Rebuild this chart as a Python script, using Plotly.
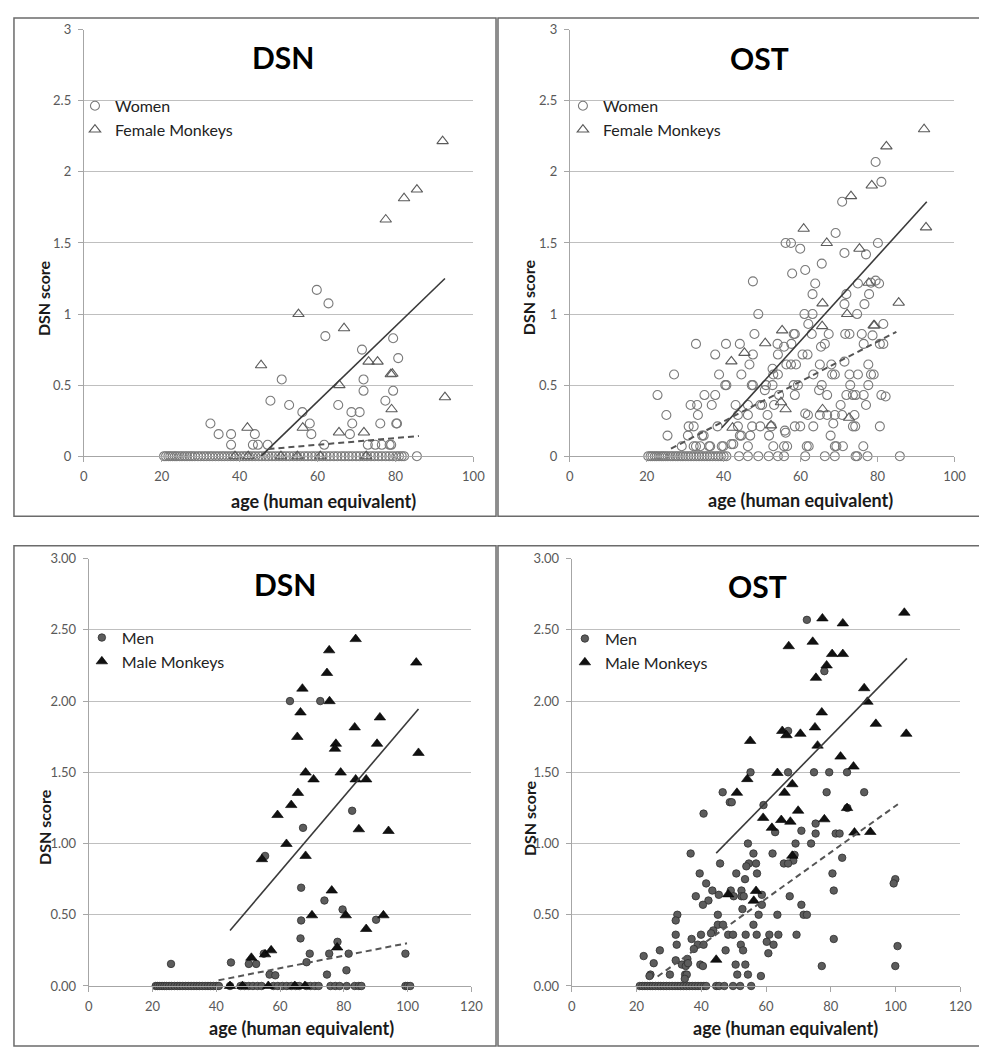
import plotly.graph_objects as go

# ---------------- DATA ----------------
# Panel 1: DSN, women / female monkeys
p1_women_age = [32.5, 34.6, 37.8, 37.8, 43.9, 43.4, 44.7, 47.2, 47.9, 50.8, 52.7, 56.1, 58.0, 58.4, 59.8,
                62.0, 62.8, 61.7, 65.3, 68.3, 68.7, 68.9, 70.8, 71.4, 71.8, 71.8, 72.9, 74.8, 76.1, 76.5,
                77.4, 78.5, 78.9, 79.4, 79.4, 80.2, 80.7, 80.4, 85.5,
                20.6, 21.1, 21.7, 22.2, 22.8, 23.4, 23.9, 24.6, 25.2, 25.9, 26.5, 27.2, 27.8, 28.5, 29.3,
                30.0, 30.8, 31.5, 32.3, 33.0, 33.8, 34.6, 35.4, 36.1, 36.9, 37.7, 38.4, 39.2, 40.1, 40.9,
                41.6, 42.4, 43.2, 44.0, 44.9, 45.7, 46.6, 47.4, 48.3, 49.2, 50.1, 51.0, 51.9, 52.8, 53.8,
                54.7, 55.6, 56.6, 57.5, 58.5, 59.4, 60.4, 61.3, 62.3, 63.2, 64.2, 65.1, 66.1, 67.0, 68.0,
                68.9, 69.9, 70.8, 71.8, 72.7, 73.7, 74.6, 75.6, 76.5, 77.5, 78.4, 79.3, 80.2, 80.9, 81.6, 82.2]
p1_women_score = [0.23, 0.155, 0.155, 0.08, 0.155, 0.08, 0.08, 0.08, 0.39, 0.54, 0.36, 0.31, 0.23, 0.155, 1.17,
                  0.845, 1.075, 0.08, 0.36, 0.155, 0.31, 0.23, 0.31, 0.75, 0.54, 0.46, 0.08, 0.08, 0.23, 0.08,
                  0.39, 0.08, 0.08, 0.83, 0.46, 0.23, 0.69, 0.23, 0.0,
                  0, 0, 0, 0, 0, 0, 0, 0, 0, 0, 0, 0, 0, 0, 0,
                  0, 0, 0, 0, 0, 0, 0, 0, 0, 0, 0, 0, 0, 0, 0,
                  0, 0, 0, 0, 0, 0, 0, 0, 0, 0, 0, 0, 0, 0, 0,
                  0, 0, 0, 0, 0, 0, 0, 0, 0, 0, 0, 0, 0, 0, 0,
                  0, 0, 0, 0, 0, 0, 0, 0, 0, 0, 0, 0, 0, 0, 0, 0]
p1_monkey_age = [42.0, 45.5, 55.1, 56.2, 65.6, 65.5, 66.8, 71.9, 73.1, 75.4, 78.8, 79.2, 79.0, 77.5, 82.2,
                 85.5, 92.1, 92.7, 38.8, 42.2, 50.6, 54.8, 60.7, 72.5]
p1_monkey_score = [0.20, 0.64, 1.0, 0.20, 0.50, 0.167, 0.90, 0.167, 0.665, 0.665, 0.577, 0.58, 0.33, 1.665, 1.815,
                   1.876, 2.217, 0.415, 0, 0, 0, 0, 0, 0]
p1_fit_monkey_age = [45.5, 92.7]
p1_fit_monkey_score = [0.0, 1.25]
p1_fit_women_age = [47.4, 86.0]
p1_fit_women_score = [0.05, 0.142]

# Panel 2: OST, women / female monkeys
p2_women_age = [79.5, 81.0, 70.8, 69.1, 56.1, 57.5, 59.9, 71.4, 77.0, 80.1, 65.5, 61.2, 57.8, 47.6, 63.8,
                74.9, 78.3, 79.5, 80.4, 63.1, 71.9, 77.8, 71.4, 76.6, 49.0, 61.0, 63.1, 74.7, 62.0, 81.5,
                78.7, 48.0, 58.2, 58.5, 62.9, 67.3, 71.6, 72.7, 75.9, 32.8, 40.6, 44.2, 54.0, 57.6, 66.3,
                76.4, 80.6, 81.5, 55.7, 65.3, 37.8, 47.6, 54.1, 60.5, 61.8, 46.7, 56.3, 57.5, 58.8, 65.0,
                68.0, 71.4, 77.6, 52.7, 27.1, 38.8, 44.6, 52.9, 54.1, 63.3, 68.2, 68.9, 72.7, 74.9, 78.3,
                79.0, 40.4, 40.7, 47.3, 47.6, 51.0, 52.7, 58.2, 59.3, 65.5, 72.9, 77.6, 50.7, 64.8, 22.8,
                35.0, 37.8, 54.4, 58.5, 66.9, 71.9, 73.6, 74.3, 76.4, 81.0, 82.1, 31.4, 33.1, 36.9, 43.1,
                46.3, 49.5, 50.0, 53.1, 70.4, 77.0, 25.1, 33.3, 43.7, 46.3, 51.4, 61.2, 61.9, 65.0, 66.9,
                68.9, 70.8, 74.0, 30.9, 32.2, 38.4, 43.7, 47.4, 49.5, 52.4, 55.9, 58.5, 59.9, 63.3, 68.5,
                73.6, 74.2, 80.6, 25.4, 30.7, 34.4, 34.8, 44.2, 44.6, 46.9, 51.8, 56.1, 67.8, 29.1, 32.2,
                32.8, 33.9, 36.2, 36.5, 39.5, 39.9, 42.0, 42.5, 46.3, 52.9, 55.7, 56.5, 61.6, 62.1, 68.9,
                69.3, 71.0, 76.3,
                20.4, 21.0, 21.5, 22.1, 22.6, 23.2, 23.8, 24.3, 24.9, 25.5, 26.2, 26.8, 27.5, 28.1, 28.8,
                29.4, 30.1, 30.8, 31.5, 32.2, 32.9, 33.6, 34.3, 35.0, 35.7, 36.4, 37.1, 37.9, 38.6, 39.3,
                40.0, 40.7, 44.0, 46.3, 49.0, 51.7, 54.1, 55.7, 61.2, 66.3, 68.9, 74.3, 74.7, 77.4, 85.8]
p2_women_score = [2.07, 1.93, 1.79, 1.57, 1.50, 1.50, 1.46, 1.43, 1.42, 1.50, 1.355, 1.31, 1.285, 1.23, 1.215,
                  1.215, 1.22, 1.235, 1.215, 1.14, 1.14, 1.14, 1.07, 1.07, 1.0, 1.0, 1.0, 1.0, 0.93, 0.93,
                  0.85, 0.86, 0.86, 0.86, 0.86, 0.86, 0.86, 0.86, 0.86, 0.79, 0.79, 0.79, 0.79, 0.79, 0.79,
                  0.79, 0.79, 0.79, 0.77, 0.77, 0.715, 0.715, 0.715, 0.715, 0.715, 0.645, 0.645, 0.645, 0.645, 0.645,
                  0.645, 0.665, 0.645, 0.615, 0.575, 0.575, 0.575, 0.575, 0.575, 0.575, 0.575, 0.575, 0.575, 0.575, 0.575,
                  0.575, 0.5, 0.5, 0.5, 0.5, 0.5, 0.5, 0.5, 0.5, 0.5, 0.5, 0.5, 0.465, 0.465, 0.43,
                  0.43, 0.43, 0.43, 0.43, 0.43, 0.43, 0.43, 0.43, 0.43, 0.43, 0.42, 0.36, 0.36, 0.36, 0.36,
                  0.36, 0.36, 0.36, 0.36, 0.36, 0.36, 0.29, 0.29, 0.29, 0.29, 0.29, 0.30, 0.29, 0.29, 0.29,
                  0.29, 0.29, 0.29, 0.21, 0.21, 0.21, 0.21, 0.21, 0.21, 0.21, 0.18, 0.21, 0.21, 0.21, 0.23,
                  0.21, 0.21, 0.21, 0.145, 0.145, 0.145, 0.145, 0.145, 0.145, 0.145, 0.145, 0.165, 0.145, 0.07, 0.07,
                  0.07, 0.07, 0.07, 0.07, 0.07, 0.07, 0.085, 0.085, 0.07, 0.07, 0.07, 0.07, 0.07, 0.07, 0.07,
                  0.07, 0.07, 0.07,
                  0, 0, 0, 0, 0, 0, 0, 0, 0, 0, 0, 0, 0, 0, 0,
                  0, 0, 0, 0, 0, 0, 0, 0, 0, 0, 0, 0, 0, 0, 0,
                  0, 0, 0, 0, 0, 0, 0, 0, 0, 0, 0, 0, 0, 0, 0]
p2_monkey_age = [92.1, 82.3, 78.5, 73.1, 60.8, 92.6, 66.8, 75.3, 77.7, 65.7, 85.5, 72.1, 79.0, 79.2, 65.6,
                 55.2, 50.8, 45.4, 42.0, 72.6, 65.7, 56.1, 52.3, 42.3, 54.9]
p2_monkey_score = [2.30, 2.18, 1.905, 1.83, 1.60, 1.61, 1.50, 1.46, 1.22, 1.075, 1.08, 1.0, 0.92, 0.92, 0.915,
                   0.885, 0.795, 0.727, 0.667, 0.27, 0.33, 0.33, 0.217, 0.20, 0.38]
p2_fit_monkey_age = [39.5, 92.8]
p2_fit_monkey_score = [0.20, 1.79]
p2_fit_women_age = [26.3, 84.9]
p2_fit_women_score = [0.053, 0.875]

# Panel 3: DSN, men / male monkeys
p3_men_age = [25.8, 44.6, 50.2, 52.5, 54.9, 55.3, 56.7, 58.5, 63.1, 72.6, 67.2, 66.6, 66.4, 66.6, 68.3,
              69.3, 73.9, 75.4, 74.7, 78.0, 79.6, 80.8, 81.5, 82.6, 90.1, 99.3,
              21.0, 21.6, 22.3, 23.0, 23.7, 24.4, 25.2, 26.0, 26.9, 27.8, 28.6, 29.5, 30.4, 31.2, 32.1,
              33.0, 33.9, 34.7, 35.6, 36.5, 37.4, 38.2, 39.1, 40.0, 40.8, 44.3, 47.6, 48.9, 50.2, 51.5,
              52.9, 54.2, 57.9, 59.3, 60.7, 62.1, 63.5, 64.9, 66.0, 68.2, 69.5, 70.9, 72.1, 75.8, 77.3,
              78.7, 80.9, 83.4, 84.7, 85.5, 99.3, 100.0, 100.8]
p3_men_score = [0.155, 0.165, 0.155, 0.155, 0.227, 0.913, 0.08, 0.075, 2.0, 2.0, 1.11, 0.69, 0.334, 0.46, 0.167,
                0.227, 0.60, 0.227, 0.08, 0.31, 0.537, 0.11, 0.227, 1.23, 0.465, 0.227,
                0, 0, 0, 0, 0, 0, 0, 0, 0, 0, 0, 0, 0, 0, 0,
                0, 0, 0, 0, 0, 0, 0, 0, 0, 0, 0, 0, 0, 0, 0,
                0, 0, 0, 0, 0, 0, 0, 0, 0, 0, 0, 0, 0, 0, 0,
                0, 0, 0, 0, 0, 0, 0, 0]
p3_monkey_age = [102.7, 83.7, 75.4, 74.7, 67.0, 75.5, 66.4, 91.3, 83.4, 65.4, 77.5, 77.2, 90.4, 103.4, 68.0,
                 79.0, 70.5, 83.7, 87.0, 65.6, 63.5, 59.2, 84.7, 94.0, 62.0, 68.0, 54.3, 76.2, 70.0, 80.6,
                 92.4, 87.0, 77.9, 51.0, 55.3, 57.2, 44.3, 48.2, 56.3, 64.6, 67.8]
p3_monkey_score = [2.27, 2.435, 2.356, 2.197, 2.087, 1.999, 1.92, 1.885, 1.815, 1.748, 1.70, 1.665, 1.70, 1.636, 1.498,
                   1.498, 1.45, 1.45, 1.45, 1.355, 1.27, 1.20, 1.10, 1.088, 0.997, 0.913, 0.89, 0.67, 0.496, 0.496,
                   0.496, 0.40, 0.27, 0.198, 0.222, 0.25, 0, 0, 0, 0, 0]
p3_fit_monkey_age = [44.3, 103.4]
p3_fit_monkey_score = [0.39, 1.945]
p3_fit_men_age = [40.7, 99.8]
p3_fit_men_score = [0.04, 0.30]

# Panel 4: OST, men / male monkeys
p4_men_age = [72.6, 78.0, 66.8, 55.2, 66.8, 74.8, 79.5, 85.0, 46.6, 78.7, 90.3, 48.8, 49.4, 59.2, 40.7,
              85.1, 75.3, 62.8, 70.9, 75.3, 81.5, 82.7, 54.4, 69.1, 73.9, 36.7, 56.1, 62.0, 68.8, 68.4,
              83.5, 45.8, 54.7, 56.9, 65.5, 66.8, 53.9, 39.5, 50.8, 57.2, 80.5, 53.5, 99.9, 41.5, 99.4,
              43.4, 49.1, 52.4, 80.9, 45.4, 58.7, 38.3, 50.0, 52.4, 53.1, 67.3, 42.2, 40.5, 70.9, 58.7,
              52.7, 32.6, 45.1, 57.7, 63.5, 71.6, 72.6, 32.1, 45.1, 46.7, 56.1, 43.7, 43.0, 32.1, 39.9,
              48.3, 49.8, 53.7, 57.1, 61.0, 63.8, 69.4, 37.0, 80.9, 60.2, 38.9, 40.7, 32.4, 52.2, 62.3,
              27.2, 37.7, 47.5, 52.9, 100.6, 60.7, 22.2, 32.1, 35.7, 25.3, 34.0, 35.2, 35.9, 39.7, 40.5,
              50.6, 53.6, 99.9, 77.2, 24.3, 30.3, 35.0, 35.5, 51.1, 54.4, 24.0, 58.4, 34.9,
              21.0, 21.8, 22.6, 23.4, 24.2, 25.0, 25.8, 26.7, 27.5, 28.4, 29.2, 30.1, 31.0, 31.9, 32.8,
              33.6, 34.5, 35.4, 36.3, 37.2, 38.1, 39.0, 39.9, 40.8, 41.5, 44.6, 45.5, 47.1, 49.8, 52.0, 55.4]
p4_men_score = [2.57, 2.21, 1.79, 1.50, 1.50, 1.50, 1.50, 1.50, 1.36, 1.36, 1.36, 1.29, 1.29, 1.27, 1.21,
                1.25, 1.14, 1.08, 1.09, 1.07, 1.07, 1.07, 1.0, 1.0, 1.0, 0.93, 0.93, 0.93, 0.92, 0.88,
                0.90, 0.86, 0.86, 0.86, 0.86, 0.86, 0.84, 0.79, 0.79, 0.79, 0.79, 0.75, 0.75, 0.72, 0.72,
                0.67, 0.67, 0.67, 0.67, 0.64, 0.64, 0.63, 0.63, 0.63, 0.63, 0.63, 0.60, 0.57, 0.57, 0.57,
                0.54, 0.50, 0.50, 0.50, 0.50, 0.50, 0.50, 0.46, 0.43, 0.43, 0.43, 0.39, 0.37, 0.36, 0.36,
                0.36, 0.36, 0.36, 0.36, 0.36, 0.36, 0.36, 0.33, 0.33, 0.31, 0.29, 0.29, 0.29, 0.29, 0.29,
                0.25, 0.26, 0.25, 0.25, 0.28, 0.23, 0.21, 0.18, 0.19, 0.16, 0.15, 0.14, 0.16, 0.15, 0.14,
                0.15, 0.15, 0.14, 0.14, 0.08, 0.08, 0.08, 0.08, 0.08, 0.08, 0.07, 0.07, 0.05,
                0, 0, 0, 0, 0, 0, 0, 0, 0, 0, 0, 0, 0, 0, 0,
                0, 0, 0, 0, 0, 0, 0, 0, 0, 0, 0, 0, 0, 0, 0, 0]
p4_monkey_age = [102.7, 77.4, 83.7, 74.4, 67.0, 80.4, 83.7, 78.7, 75.4, 90.3, 91.3, 77.2, 93.9, 65.0, 66.3,
                 70.6, 75.1, 103.3, 55.1, 75.9, 83.0, 87.0, 63.5, 54.2, 68.1, 65.7, 51.0, 69.9, 85.0, 59.1,
                 64.7, 78.0, 67.5, 61.8, 87.3, 92.2, 68.1, 48.3, 56.9, 56.2, 44.6]
p4_monkey_score = [2.62, 2.58, 2.545, 2.416, 2.385, 2.33, 2.33, 2.25, 2.163, 2.09, 1.995, 1.92, 1.84, 1.79, 1.76,
                   1.77, 1.815, 1.77, 1.72, 1.687, 1.61, 1.54, 1.495, 1.452, 1.416, 1.356, 1.356, 1.23, 1.249, 1.18,
                   1.165, 1.17, 1.153, 1.11, 1.077, 1.081, 0.914, 0.643, 0.667, 0.598, 0.184]
p4_fit_monkey_age = [44.6, 103.5]
p4_fit_monkey_score = [0.933, 2.30]
p4_fit_men_age = [26.5, 100.7]
p4_fit_men_score = [0.067, 1.276]

panel_titles = ["DSN", "OST", "DSN", "OST"]
y_axis_title = "DSN score"
x_axis_title = "age (human equivalent)"
top_x_ticks = [0, 20, 40, 60, 80, 100]
bottom_x_ticks = [0, 20, 40, 60, 80, 100, 120]
y_ticks = [0, 0.5, 1, 1.5, 2, 2.5, 3]

# ---------------- LAYOUT HELPERS ----------------
W, H = 987, 1050
FONT = "Lato, 'Open Sans', sans-serif"
def px_x(p): return p / W
def px_y(p): return 1 - p / H

# plot areas in pixels: (left, right, top, bottom)
areas = [(73, 469, 14, 447), (567, 958, 14, 447), (78, 467, 551, 985), (569, 964, 551, 985)]

fig = go.Figure()

open_circle = dict(symbol="circle-open", size=9, color="#7a7a7a", line=dict(width=1.1))
open_tri = dict(symbol="triangle-up-open", size=10, color="#5a5a5a", line=dict(width=1.1))
fill_circle = dict(symbol="circle", size=7.5, color="#5c5c5c", line=dict(width=0.8, color="#2e2e2e"))
fill_tri = dict(symbol="triangle-up", size=10, color="#111111", line=dict(width=0.6, color="#000000"))

panels = [
    (p1_women_age, p1_women_score, "Women", open_circle, p1_monkey_age, p1_monkey_score, "Female Monkeys", open_tri,
     p1_fit_monkey_age, p1_fit_monkey_score, p1_fit_women_age, p1_fit_women_score),
    (p2_women_age, p2_women_score, "Women", open_circle, p2_monkey_age, p2_monkey_score, "Female Monkeys", open_tri,
     p2_fit_monkey_age, p2_fit_monkey_score, p2_fit_women_age, p2_fit_women_score),
    (p3_men_age, p3_men_score, "Men", fill_circle, p3_monkey_age, p3_monkey_score, "Male Monkeys", fill_tri,
     p3_fit_monkey_age, p3_fit_monkey_score, p3_fit_men_age, p3_fit_men_score),
    (p4_men_age, p4_men_score, "Men", fill_circle, p4_monkey_age, p4_monkey_score, "Male Monkeys", fill_tri,
     p4_fit_monkey_age, p4_fit_monkey_score, p4_fit_men_age, p4_fit_men_score),
]

layout = dict(width=W, height=H, margin=dict(l=0, r=0, t=0, b=0),
              paper_bgcolor="white", plot_bgcolor="white",
              font=dict(family=FONT, color="#333"), annotations=[], shapes=[])

for i, (ha, hs, hname, hmark, ma, ms, mname, mmark, fma, fms, fha, fhs) in enumerate(panels):
    n = "" if i == 0 else str(i + 1)
    xa, ya = "x" + n, "y" + n
    lg = "legend" + n
    fig.add_trace(go.Scatter(x=ha, y=hs, mode="markers", name=hname, marker=hmark,
                             xaxis=xa, yaxis=ya, legend=lg, cliponaxis=False))
    fig.add_trace(go.Scatter(x=ma, y=ms, mode="markers", name=mname, marker=mmark,
                             xaxis=xa, yaxis=ya, legend=lg, cliponaxis=False))
    fig.add_trace(go.Scatter(x=fma, y=fms, mode="lines", line=dict(color="#3a3a3a", width=1.6),
                             xaxis=xa, yaxis=ya, showlegend=False, hoverinfo="skip"))
    fig.add_trace(go.Scatter(x=fha, y=fhs, mode="lines", line=dict(color="#555555", width=2, dash="6px,4px"),
                             xaxis=xa, yaxis=ya, showlegend=False, hoverinfo="skip"))

    l, r, t, b = areas[i]
    top = i < 2
    layout["xaxis" + n] = dict(domain=[px_x(l), px_x(r)], anchor=ya, range=[0, 100 if top else 120],
                               tickvals=top_x_ticks if top else bottom_x_ticks,
                               showgrid=False, zeroline=False, showline=True, linecolor="#a6a6a6",
                               ticks="outside", ticklen=5, tickcolor="#a6a6a6", ticklabelstandoff=3,
                               tickfont=dict(size=13, color="#595959", family=FONT))
    layout["yaxis" + n] = dict(domain=[px_y(b), px_y(t)], anchor=xa, range=[0, 3],
                               tickvals=y_ticks, tickformat="" if top else ".2f",
                               showgrid=True, gridcolor="#bfbfbf", gridwidth=1, zeroline=False,
                               showline=True, linecolor="#a6a6a6", ticks="outside", ticklen=5,
                               tickcolor="#a6a6a6", ticklabelstandoff=4,
                               tickfont=dict(size=13, color="#595959", family=FONT))

# legends (positions in pixels of the top-left corner)
legend_pos = [(64, 74), (560, 74), (71, 614), (562, 615)]
for i, (lx, ly) in enumerate(legend_pos):
    n = "" if i == 0 else str(i + 1)
    layout["legend" + n] = dict(x=px_x(lx), y=px_y(ly), xanchor="left", yanchor="top",
                                bgcolor="rgba(0,0,0,0)", font=dict(size=16, color="#222", family=FONT),
                                itemwidth=30, tracegroupgap=0)

# titles
title_pos = [(275, 42), (760, 43), (277, 577), (758, 579)]
for txt, (tx, ty) in zip(panel_titles, title_pos):
    layout["annotations"].append(dict(text="<b>%s</b>" % txt, x=px_x(tx), y=px_y(ty), xref="paper", yref="paper",
                                      showarrow=False, xanchor="center", yanchor="middle",
                                      font=dict(size=30, color="black", family=FONT)))
# axis titles
xt_pos = [(317, 492), (802, 491), (294, 1028), (786, 1028)]
yt_pos = [(32, 286), (525, 285), (33, 823), (526, 814)]
for (xx, xy), (yx, yy) in zip(xt_pos, yt_pos):
    layout["annotations"].append(dict(text="<b>%s</b>" % x_axis_title, x=px_x(xx), y=px_y(xy), xref="paper",
                                      yref="paper", showarrow=False, xanchor="center", yanchor="middle",
                                      font=dict(size=18, color="#1a1a1a", family=FONT)))
    layout["annotations"].append(dict(text="<b>%s</b>" % y_axis_title, x=px_x(yx), y=px_y(yy), xref="paper",
                                      yref="paper", showarrow=False, xanchor="center", yanchor="middle",
                                      textangle=-90, font=dict(size=16, color="#1a1a1a", family=FONT)))

# panel frames
frames = [(2, 492, 2, 508), (494, 985, 2, 508), (2, 492, 538, 1046), (494, 985, 538, 1046)]
for (x0, x1, y0, y1) in frames:
    layout["shapes"].append(dict(type="rect", xref="paper", yref="paper", x0=px_x(x0), x1=px_x(x1),
                                 y0=px_y(y1), y1=px_y(y0), line=dict(color="#6b6b6b", width=1.5),
                                 fillcolor="rgba(0,0,0,0)", layer="above"))

fig.update_layout(**layout)
fig.write_html("out.html")
